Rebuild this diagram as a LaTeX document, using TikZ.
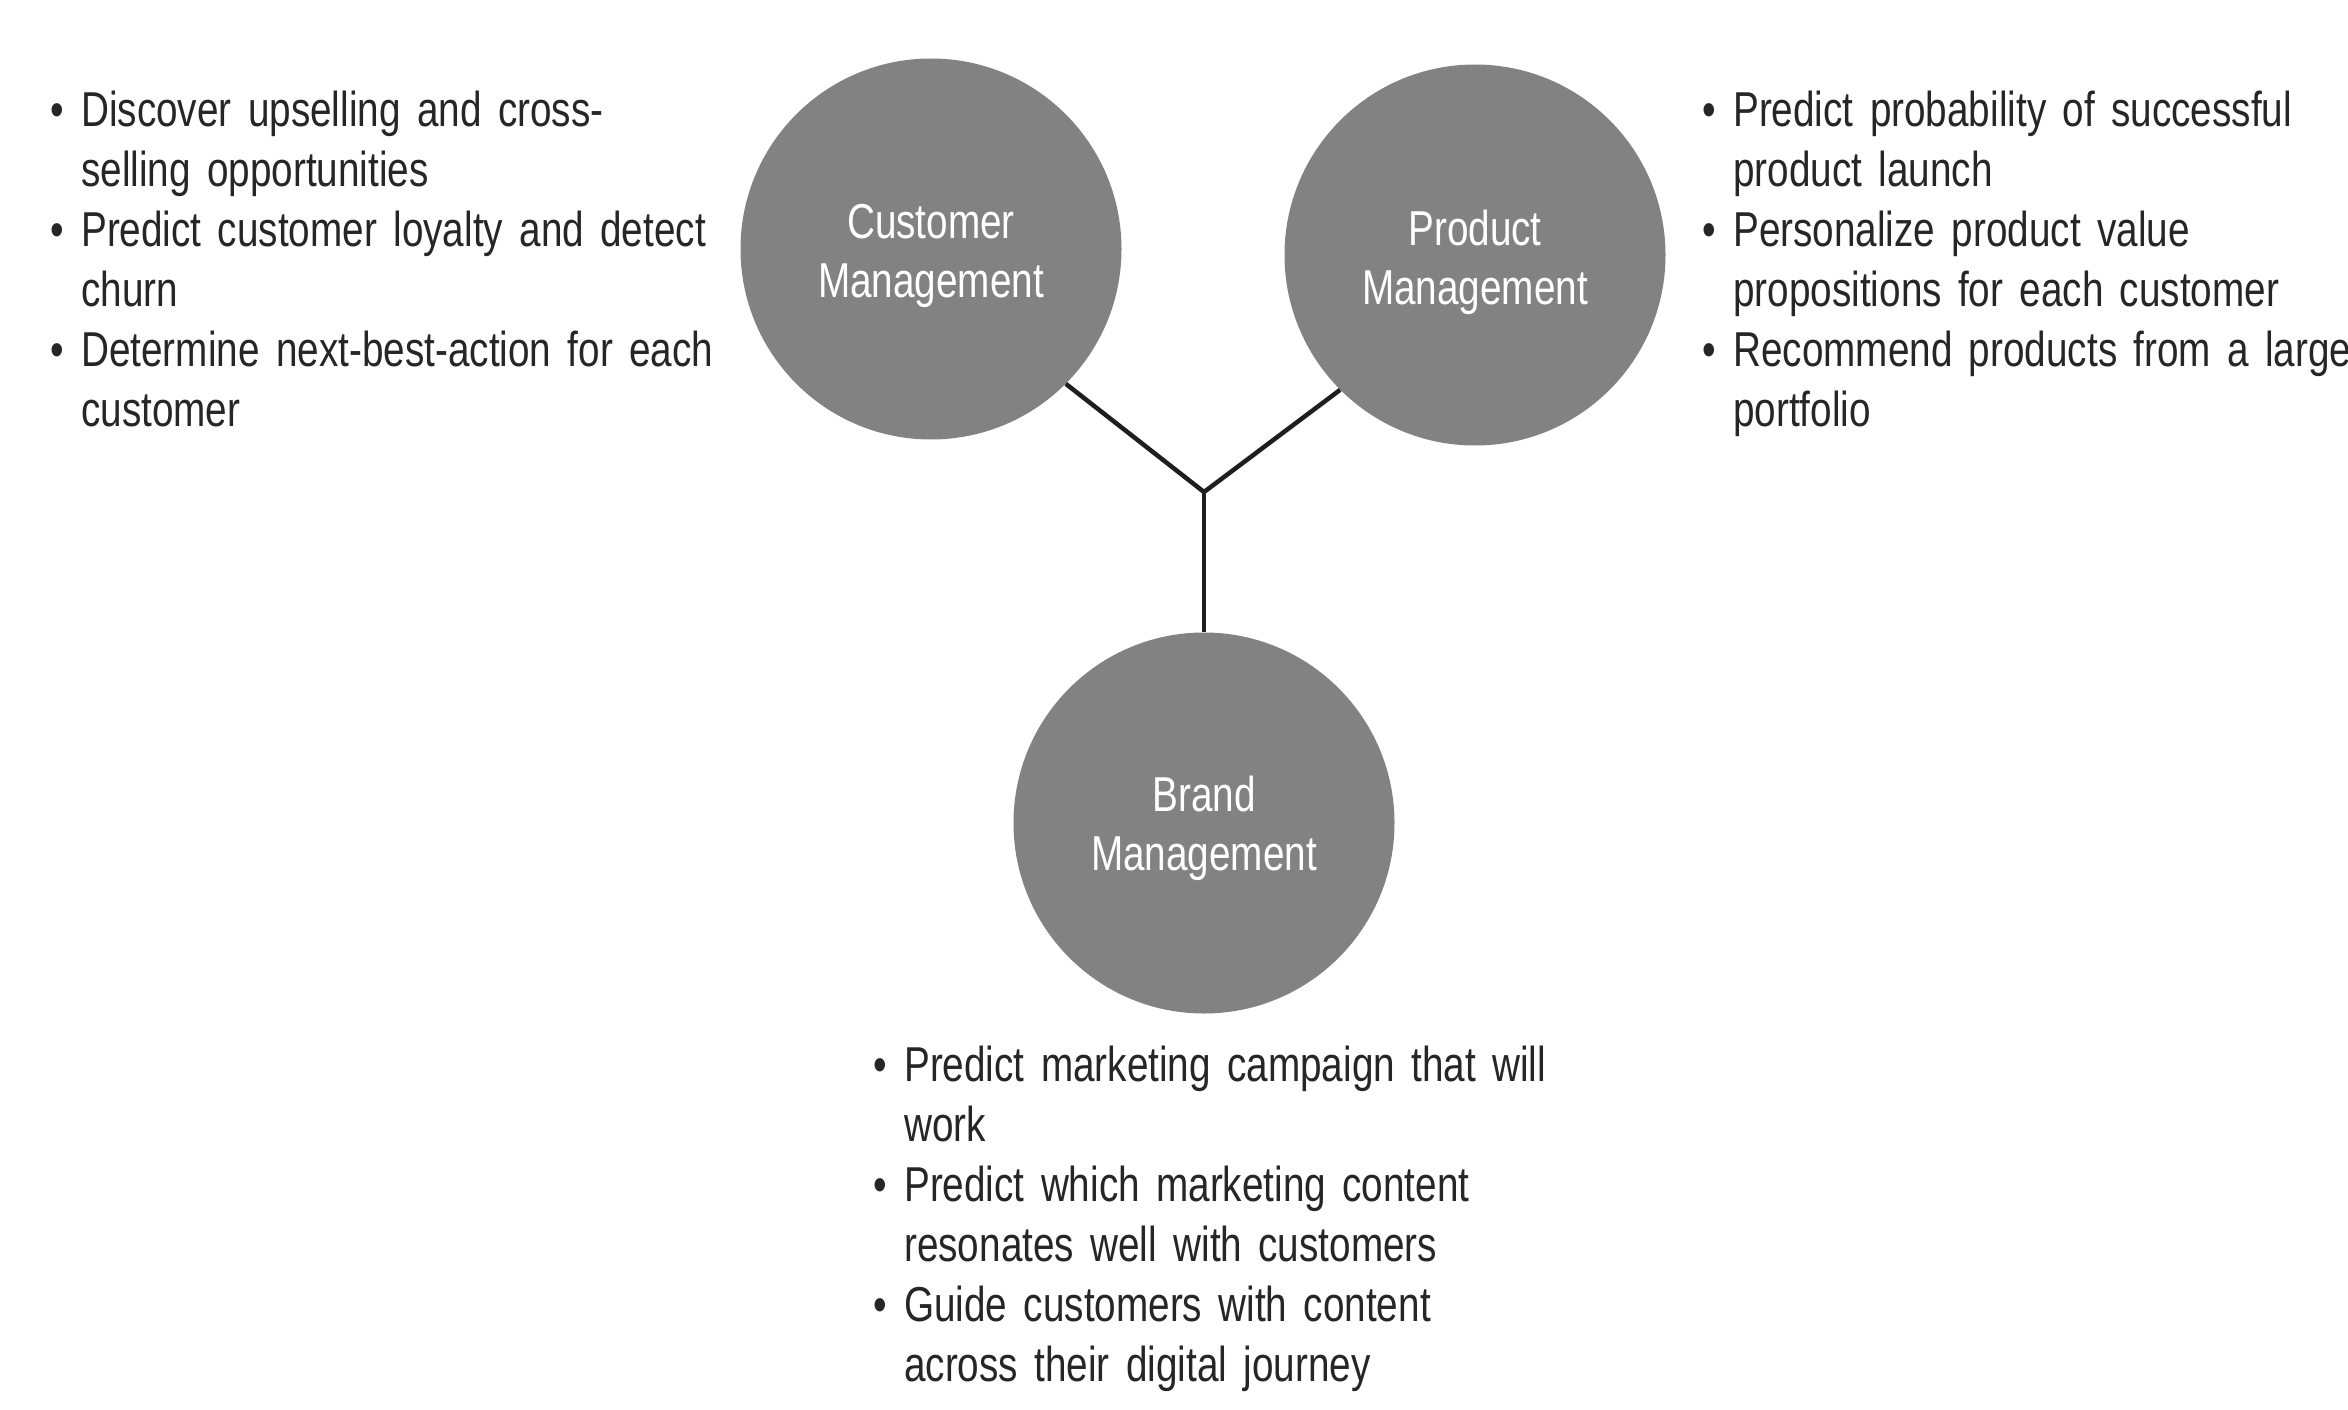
\documentclass[tikz,border=0pt]{standalone}
\usepackage{fontspec}
\setmainfont[FakeStretch=0.79]{Liberation Sans}
\definecolor{circfill}{RGB}{130,130,130}
\definecolor{txt}{RGB}{38,38,38}
\definecolor{linec}{RGB}{30,30,30}
\newcommand\bl{\makebox[0pt][r]{\textbullet\hspace{17pt}}}
\begin{document}
\begin{tikzpicture}[x=1pt,y=-1pt,
  circ/.style={circle,fill=circfill,minimum size=381pt,inner sep=0pt},
  lbl/.style={inner sep=0pt,text=white,align=center,font=\fontsize{49}{59}\selectfont},
  blk/.style={anchor=base west,inner sep=0pt,text=txt,text width=700pt,align=left,font=\fontsize{49}{60}\selectfont},
  link/.style={draw=linec,line width=4.5pt}]
\path[fill=white,use as bounding box] (0,0) rectangle (2348,1410);
\coordinate (j) at (1204,492);
\node[circ] (cm) at (931,249) {};
\node[circ] (pm) at (1475,255) {};
\node[circ] (bm) at (1204,823) {};
\node[lbl] (cml) at ([yshift=-7pt]cm.center) {Customer\\Management};
\node[lbl] (pml) at ([yshift=-7pt]pm.center) {Product\\Management};
\node[lbl] (bml) at ([yshift=-5pt]bm.center) {Brand\\Management};
\draw[link] (cm.-45) -- (j) -- (pm.-135);
\draw[link] (j) -- (bm.north);
\node[blk] (lt) at (81,127) {\bl Discover upselling and cross-\\selling opportunities\\\bl Predict customer loyalty and detect\\churn\\\bl Determine next-best-action for each\\customer};
\node[blk] (rt) at (1733,127) {\bl Predict probability of successful\\product launch\\\bl Personalize product value\\propositions for each customer\\\bl Recommend products from a large\\portfolio};
\node[blk] (bt) at (904,1081) {\bl Predict marketing campaign that will\\work\\\bl Predict which marketing content\\resonates well with customers\\\bl Guide customers with content\\across their digital journey};
\end{tikzpicture}
\end{document}
